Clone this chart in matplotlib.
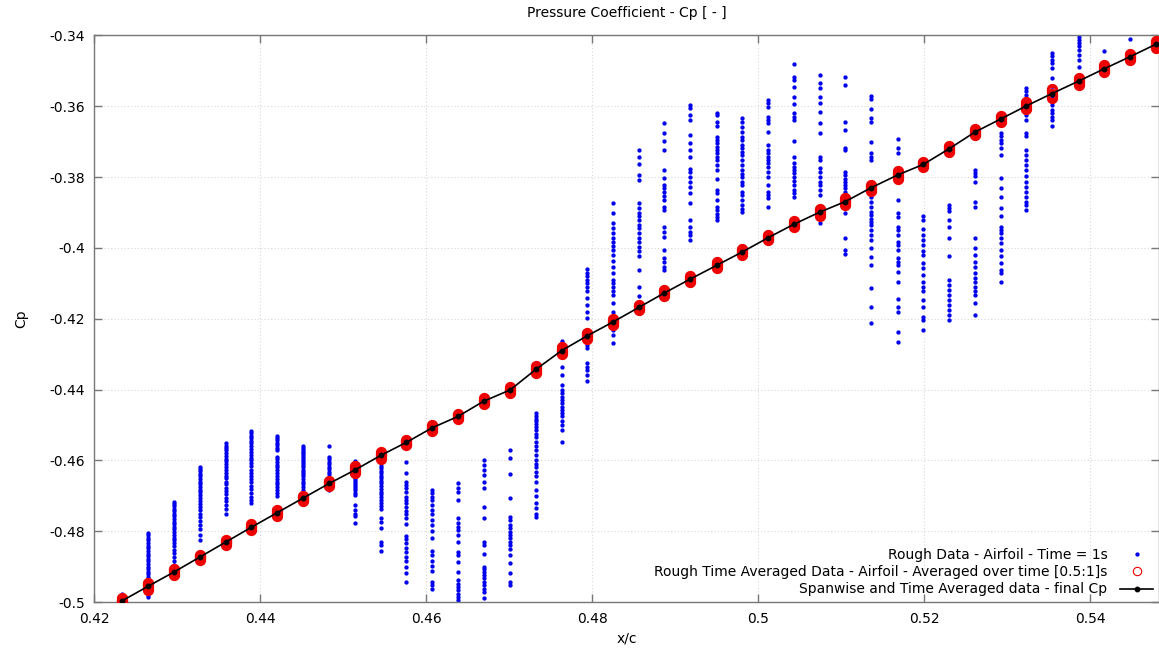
import matplotlib
matplotlib.use("Agg")
import matplotlib.pyplot as plt
from matplotlib.ticker import FormatStrFormatter

# chordwise stations (x/c)
x_c = [0.4233, 0.4265, 0.4296, 0.4327, 0.4358, 0.4389, 0.4420, 0.4451, 0.4483, 0.4514,
       0.4545, 0.4576, 0.4607, 0.4638, 0.4669, 0.4701, 0.4732, 0.4763, 0.4794, 0.4825,
       0.4856, 0.4887, 0.4918, 0.4950, 0.4981, 0.5012, 0.5043, 0.5074, 0.5105, 0.5136,
       0.5168, 0.5199, 0.5230, 0.5261, 0.5292, 0.5323, 0.5354, 0.5386, 0.5417, 0.5448,
       0.5479]

# spanwise and time averaged Cp (final)
cp_final = [-0.4997, -0.4955, -0.4915, -0.4873, -0.4831, -0.4789, -0.4748, -0.4707, -0.4665, -0.4627,
            -0.4586, -0.4549, -0.4508, -0.4476, -0.4433, -0.4401, -0.4343, -0.4290, -0.4248, -0.4209,
            -0.4168, -0.4127, -0.4088, -0.4049, -0.4011, -0.3971, -0.3933, -0.3899, -0.3869, -0.3830,
            -0.3794, -0.3764, -0.3720, -0.3673, -0.3636, -0.3599, -0.3564, -0.3529, -0.3494, -0.3460,
            -0.3425]

# spanwise scatter of the time averaged data around the final value
red_spread = [0.0008, 0.0010, 0.0009, 0.0007, 0.0007, 0.0008, 0.0008, 0.0007, 0.0008, 0.0010,
              0.0009, 0.0008, 0.0008, 0.0007, 0.0008, 0.0008, 0.0009, 0.0010, 0.0008, 0.0008,
              0.0008, 0.0008, 0.0009, 0.0008, 0.0008, 0.0007, 0.0008, 0.0010, 0.0009, 0.0009,
              0.0010, 0.0006, 0.0008, 0.0009, 0.0009, 0.0010, 0.0012, 0.0010, 0.0010, 0.0009,
              0.0009]

# rough data at t = 1s, one list per station
rough_cp = [
    [-0.4976, -0.4985, -0.4992],
    [-0.4806, -0.4812, -0.4819, -0.4826, -0.4833, -0.4841, -0.4848, -0.4856, -0.4863, -0.4870,
     -0.4878, -0.4885, -0.4893, -0.4900, -0.4908, -0.4915, -0.4922, -0.4930, -0.4938, -0.4946,
     -0.4955, -0.4963, -0.4971, -0.4979, -0.4987],
    [-0.4717, -0.4723, -0.4730, -0.4737, -0.4744, -0.4751, -0.4758, -0.4766, -0.4773, -0.4780,
     -0.4788, -0.4795, -0.4803, -0.4810, -0.4818, -0.4826, -0.4834, -0.4843, -0.4852, -0.4862,
     -0.4872, -0.4884, -0.4896, -0.4906, -0.4914],
    [-0.4618, -0.4624, -0.4631, -0.4638, -0.4645, -0.4652, -0.4660, -0.4667, -0.4675, -0.4683,
     -0.4690, -0.4698, -0.4706, -0.4714, -0.4722, -0.4731, -0.4740, -0.4750, -0.4760, -0.4770,
     -0.4782, -0.4795, -0.4810, -0.4825],
    [-0.4552, -0.4558, -0.4565, -0.4572, -0.4580, -0.4587, -0.4595, -0.4603, -0.4611, -0.4619,
     -0.4627, -0.4635, -0.4643, -0.4651, -0.4660, -0.4668, -0.4677, -0.4686, -0.4695, -0.4705,
     -0.4715, -0.4725, -0.4738, -0.4752],
    [-0.4517, -0.4523, -0.4530, -0.4537, -0.4544, -0.4552, -0.4560, -0.4568, -0.4576, -0.4584,
     -0.4592, -0.4600, -0.4608, -0.4617, -0.4626, -0.4635, -0.4644, -0.4653, -0.4662, -0.4672,
     -0.4682, -0.4692, -0.4702, -0.4712, -0.4721],
    [-0.4531, -0.4537, -0.4543, -0.4550, -0.4557, -0.4564, -0.4570, -0.4590, -0.4597, -0.4604,
     -0.4612, -0.4620, -0.4628, -0.4636, -0.4644, -0.4652, -0.4660, -0.4668, -0.4676, -0.4684,
     -0.4692, -0.4700],
    [-0.4560, -0.4565, -0.4570, -0.4575, -0.4580, -0.4585, -0.4590, -0.4596, -0.4602, -0.4608,
     -0.4614, -0.4620, -0.4626, -0.4632, -0.4638, -0.4645, -0.4652, -0.4660, -0.4668, -0.4676,
     -0.4685, -0.4693, -0.4700],
    [-0.4559, -0.4589, -0.4596, -0.4604, -0.4611, -0.4618, -0.4625, -0.4632, -0.4639, -0.4646,
     -0.4653, -0.4660, -0.4667, -0.4674, -0.4684],
    [-0.4602, -0.4608, -0.4613, -0.4618, -0.4622, -0.4627, -0.4632, -0.4637, -0.4641, -0.4646,
     -0.4651, -0.4656, -0.4660, -0.4666, -0.4671, -0.4677, -0.4684, -0.4691, -0.4698, -0.4726,
     -0.4740, -0.4750, -0.4756, -0.4776],
    [-0.4594, -0.4601, -0.4608, -0.4615, -0.4622, -0.4629, -0.4636, -0.4643, -0.4650, -0.4658,
     -0.4665, -0.4672, -0.4680, -0.4688, -0.4696, -0.4704, -0.4712, -0.4720, -0.4728, -0.4736,
     -0.4764, -0.4773, -0.4792, -0.4830, -0.4839, -0.4856],
    [-0.4604, -0.4637, -0.4660, -0.4670, -0.4679, -0.4688, -0.4703, -0.4712, -0.4721, -0.4731,
     -0.4743, -0.4752, -0.4764, -0.4781, -0.4814, -0.4823, -0.4834, -0.4847, -0.4858, -0.4872,
     -0.4884, -0.4900, -0.4919, -0.4943],
    [-0.4684, -0.4693, -0.4703, -0.4712, -0.4726, -0.4740, -0.4752, -0.4768, -0.4783, -0.4800,
     -0.4818, -0.4856, -0.4867, -0.4884, -0.4898, -0.4913, -0.4943, -0.4952, -0.4962],
    [-0.4665, -0.4679, -0.4688, -0.4712, -0.4764, -0.4778, -0.4787, -0.4797, -0.4811, -0.4830,
     -0.4858, -0.4867, -0.4886, -0.4915, -0.4938, -0.4948, -0.4957, -0.4966, -0.4976, -0.4985,
     -0.4995],
    [-0.4599, -0.4613, -0.4627, -0.4641, -0.4662, -0.4677, -0.4731, -0.4764, -0.4830, -0.4839,
     -0.4863, -0.4900, -0.4907, -0.4915, -0.4924, -0.4933, -0.4943, -0.4952, -0.4962, -0.4971,
     -0.4990],
    [-0.4571, -0.4594, -0.4639, -0.4705, -0.4759, -0.4768, -0.4783, -0.4792, -0.4801, -0.4811,
     -0.4820, -0.4830, -0.4839, -0.4849, -0.4867, -0.4891, -0.4919, -0.4943, -0.4952],
    [-0.4465, -0.4475, -0.4482, -0.4490, -0.4497, -0.4505, -0.4515, -0.4525, -0.4535, -0.4548,
     -0.4560, -0.4572, -0.4585, -0.4598, -0.4610, -0.4620, -0.4632, -0.4645, -0.4660, -0.4685,
     -0.4700, -0.4720, -0.4735, -0.4750, -0.4760],
    [-0.4264, -0.4274, -0.4288, -0.4335, -0.4359, -0.4387, -0.4401, -0.4410, -0.4420, -0.4429,
     -0.4439, -0.4448, -0.4457, -0.4467, -0.4476, -0.4490, -0.4500, -0.4514, -0.4547],
    [-0.4060, -0.4070, -0.4079, -0.4090, -0.4100, -0.4109, -0.4123, -0.4142, -0.4161, -0.4180,
     -0.4199, -0.4231, -0.4250, -0.4264, -0.4274, -0.4283, -0.4326, -0.4335, -0.4344, -0.4359,
     -0.4375],
    [-0.3874, -0.3902, -0.3930, -0.3944, -0.3958, -0.3973, -0.3982, -0.3994, -0.4005, -0.4020,
     -0.4038, -0.4053, -0.4071, -0.4090, -0.4100, -0.4109, -0.4123, -0.4133, -0.4156, -0.4180,
     -0.4199, -0.4213, -0.4231, -0.4246, -0.4269],
    [-0.3723, -0.3742, -0.3763, -0.3794, -0.3808, -0.3874, -0.3888, -0.3902, -0.3911, -0.3921,
     -0.3935, -0.3944, -0.3958, -0.3973, -0.3982, -0.3996, -0.4010, -0.4024, -0.4062, -0.4109,
     -0.4137, -0.4175],
    [-0.3648, -0.3674, -0.3697, -0.3723, -0.3779, -0.3803, -0.3822, -0.3831, -0.3841, -0.3853,
     -0.3864, -0.3883, -0.3892, -0.3940, -0.3954, -0.3968, -0.4005, -0.4029, -0.4041, -0.4053,
     -0.4062],
    [-0.3597, -0.3606, -0.3625, -0.3639, -0.3681, -0.3705, -0.3724, -0.3743, -0.3776, -0.3785,
     -0.3799, -0.3813, -0.3827, -0.3846, -0.3874, -0.3921, -0.3940, -0.3954, -0.3964, -0.3978],
    [-0.3618, -0.3625, -0.3644, -0.3656, -0.3686, -0.3695, -0.3705, -0.3714, -0.3724, -0.3733,
     -0.3743, -0.3752, -0.3766, -0.3780, -0.3804, -0.3837, -0.3844, -0.3865, -0.3884, -0.3893,
     -0.3903, -0.3912, -0.3921],
    [-0.3634, -0.3644, -0.3658, -0.3672, -0.3686, -0.3695, -0.3710, -0.3719, -0.3728, -0.3738,
     -0.3752, -0.3766, -0.3780, -0.3790, -0.3799, -0.3813, -0.3823, -0.3841, -0.3851, -0.3865,
     -0.3879, -0.3889, -0.3898],
    [-0.3582, -0.3592, -0.3603, -0.3629, -0.3639, -0.3648, -0.3672, -0.3709, -0.3723, -0.3733,
     -0.3742, -0.3752, -0.3761, -0.3771, -0.3785, -0.3799, -0.3822, -0.3841, -0.3851, -0.3860,
     -0.3884],
    [-0.3481, -0.3518, -0.3526, -0.3545, -0.3573, -0.3594, -0.3618, -0.3629, -0.3639, -0.3697,
     -0.3742, -0.3759, -0.3771, -0.3780, -0.3789, -0.3799, -0.3810, -0.3822, -0.3835, -0.3846,
     -0.3855],
    [-0.3512, -0.3533, -0.3549, -0.3573, -0.3592, -0.3615, -0.3646, -0.3675, -0.3742, -0.3752,
     -0.3775, -0.3785, -0.3799, -0.3813, -0.3822, -0.3836, -0.3851, -0.3929],
    [-0.3518, -0.3540, -0.3643, -0.3667, -0.3719, -0.3723, -0.3785, -0.3794, -0.3804, -0.3813,
     -0.3822, -0.3832, -0.3841, -0.3902, -0.3973, -0.4006, -0.4017],
    [-0.3571, -0.3578, -0.3609, -0.3634, -0.3643, -0.3700, -0.3733, -0.3742, -0.3752, -0.3832,
     -0.3855, -0.3869, -0.3884, -0.3898, -0.3907, -0.3917, -0.3926, -0.3935, -0.3949, -0.3964,
     -0.3978, -0.4001, -0.4025, -0.4048, -0.4114, -0.4168, -0.4213],
    [-0.3691, -0.3719, -0.3733, -0.3813, -0.3865, -0.3902, -0.3912, -0.3940, -0.3949, -0.3964,
     -0.3982, -0.3992, -0.4006, -0.4029, -0.4039, -0.4048, -0.4067, -0.4095, -0.4143, -0.4166,
     -0.4180, -0.4237, -0.4265],
    [-0.3911, -0.3921, -0.3946, -0.3963, -0.3977, -0.3991, -0.4010, -0.4020, -0.4043, -0.4057,
     -0.4076, -0.4095, -0.4109, -0.4123, -0.4147, -0.4166, -0.4194, -0.4203, -0.4232],
    [-0.3878, -0.3886, -0.3897, -0.3921, -0.3940, -0.3973, -0.4024, -0.4090, -0.4104, -0.4119,
     -0.4133, -0.4147, -0.4161, -0.4175, -0.4189, -0.4203],
    [-0.3780, -0.3789, -0.3798, -0.3813, -0.3869, -0.3883, -0.3973, -0.4001, -0.4020, -0.4039,
     -0.4053, -0.4072, -0.4086, -0.4095, -0.4109, -0.4123, -0.4133, -0.4156, -0.4189],
    [-0.3676, -0.3685, -0.3695, -0.3704, -0.3718, -0.3737, -0.3803, -0.3831, -0.3855, -0.3888,
     -0.3911, -0.3940, -0.3949, -0.3959, -0.3973, -0.3987, -0.4006, -0.4024, -0.4043, -0.4062,
     -0.4072, -0.4095],
    [-0.3549, -0.3558, -0.3568, -0.3577, -0.3587, -0.3624, -0.3638, -0.3676, -0.3685, -0.3723,
     -0.3737, -0.3751, -0.3765, -0.3780, -0.3798, -0.3813, -0.3827, -0.3841, -0.3855, -0.3869,
     -0.3878, -0.3893],
    [-0.3450, -0.3459, -0.3469, -0.3478, -0.3492, -0.3521, -0.3544, -0.3554, -0.3572, -0.3587,
     -0.3596, -0.3610, -0.3620, -0.3629, -0.3638, -0.3657],
    [-0.3403, -0.3412, -0.3422, -0.3431, -0.3441, -0.3455, -0.3469, -0.3488, -0.3539],
    [-0.3445],
    [-0.3411],
    [],
]

span_offsets = [-1.0, -0.5, 0.0, 0.5, 1.0]


def main():
    fig = plt.figure(figsize=(11.59, 6.5), dpi=100)
    ax = fig.add_axes([0.0815, 0.0738, 0.9185, 0.8716])

    # rough data, one column per station
    bx, by = [], []
    for i in range(len(x_c)):
        for v in rough_cp[i]:
            bx.append(x_c[i])
            by.append(v)
    ax.plot(bx, by, linestyle="none", marker="o", markersize=3.1,
            color="#0000ee", markeredgewidth=0, zorder=2,
            label="Rough Data - Airfoil - Time = 1s")

    # time averaged data (spanwise stations)
    rx, ry = [], []
    for i in range(len(x_c)):
        for k in span_offsets:
            rx.append(x_c[i])
            ry.append(cp_final[i] + k * red_spread[i])
    ax.plot(rx, ry, linestyle="none", marker="o", markersize=6.5,
            markerfacecolor="none", markeredgecolor="#ee0000", markeredgewidth=1.6,
            zorder=3)
    ax.plot([], [], linestyle="none", marker="o", markersize=6,
            markerfacecolor="none", markeredgecolor="#ee0000", markeredgewidth=0.8,
            label="Rough Time Averaged Data - Airfoil - Averaged over time [0.5:1]s")

    ax.plot(x_c, cp_final, color="black", linewidth=1.2, marker="o",
            markersize=3.2, zorder=4,
            label="Spanwise and Time Averaged data - final Cp")

    ax.set_xlim(0.42, 0.5483)
    ax.set_ylim(-0.5, -0.34)
    ax.set_xticks([0.42, 0.44, 0.46, 0.48, 0.50, 0.52, 0.54])
    ax.set_yticks([-0.5, -0.48, -0.46, -0.44, -0.42, -0.4, -0.38, -0.36, -0.34])
    ax.xaxis.set_major_formatter(FormatStrFormatter("%g"))
    ax.yaxis.set_major_formatter(FormatStrFormatter("%g"))
    ax.tick_params(direction="in", length=6, width=1, color="#777777",
                   top=True, right=True, labelsize=10, pad=7)
    ax.grid(True, color="#d8d8d8", linestyle=(0, (1, 2)), linewidth=0.8)
    for s in ax.spines.values():
        s.set_color("#777777")
        s.set_linewidth(1)

    ax.set_xlabel("x/c", fontsize=10, labelpad=4)
    ax.set_ylabel("Cp", fontsize=10, labelpad=15)
    ax.set_title("Pressure Coefficient - Cp [ - ]", fontsize=10, pad=13)

    ax.legend(loc="lower right", frameon=False, markerfirst=False, fontsize=10,
              handlelength=2.4, handletextpad=0.9, labelspacing=0.25,
              borderaxespad=0.3, borderpad=0.1)

    fig.savefig("out.png", dpi=100)


if __name__ == "__main__":
    main()
